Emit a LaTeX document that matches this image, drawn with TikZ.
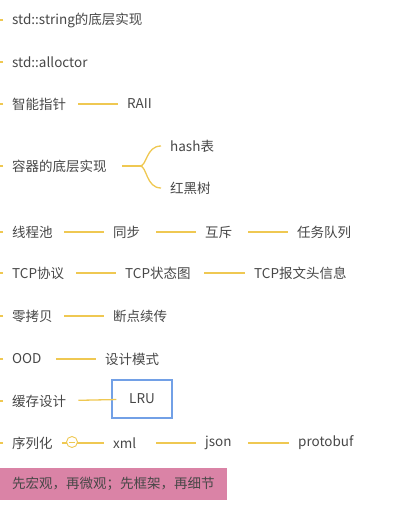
\documentclass[tikz,border=0pt]{standalone}
\usepackage{fontspec}
\setmainfont{Noto Sans CJK SC}
\usetikzlibrary{arrows}

\definecolor{txtgray}{HTML}{474747}
\definecolor{linkyellow}{HTML}{EFC852}
\definecolor{selblue}{HTML}{72A0E6}
\definecolor{notepink}{HTML}{DA83A6}

\begin{document}
\begin{tikzpicture}[x=1pt,y=-1pt]
\tikzstyle{every node}=[inner sep=0pt, text=txtgray, font=\fontsize{13.5pt}{16pt}\selectfont]
\tikzstyle{item}=[anchor=west]
\tikzstyle{topic}=[anchor=west, text width=#1]
\tikzstyle{link}=[draw=linkyellow, line width=1.3pt, shorten >=9pt]
\tikzstyle{stub}=[draw=linkyellow, line width=1.3pt, shorten <=9pt]
\useasboundingbox (0,0) rectangle (402,519);
\coordinate (edge) at (0,0);
% topics
\draw (12,20) node (str) [item] {std::string的底层实现};
\draw (12,62) node (alloc) [item] {std::alloctor};
\draw (12,104) node (ptr) [topic=66pt] {智能指针};
\draw (127,104) node (raii) [item] {RAII};
\draw (12,166) node (cont) [topic=110pt] {容器的底层实现};
\draw (170,146) node (hash) [item] {hash表};
\draw (170,188) node (rbt) [item] {红黑树};
\draw (12,232) node (pool) [topic=52pt] {线程池};
\draw (113,232) node (sync) [topic=43pt] {同步};
\draw (205,232) node (mutex) [topic=43pt] {互斥};
\draw (297,232) node (queue) [item] {任务队列};
\draw (12,273) node (tcp) [topic=64pt] {TCP协议};
\draw (125,273) node (tcpst) [topic=79pt] {TCP状态图};
\draw (254,273) node (tcphd) [item] {TCP报文头信息};
\draw (12,316) node (zcopy) [topic=52pt] {零拷贝};
\draw (113,316) node (resume) [item] {断点续传};
\draw (12,359) node (ood) [topic=44pt] {OOD};
\draw (105,359) node (pattern) [item] {设计模式};
\draw (12,401) node (cache) [topic=66pt] {缓存设计};
\draw (142,399) node (lru) [draw=selblue, line width=1.2pt, minimum width=60pt, minimum height=38pt] {LRU};
\draw (12,443) node (ser) [topic=50pt] {序列化};
\draw (113,443) node (xml) [topic=43pt] {xml};
\draw (205,443) node (json) [topic=43pt] {json};
\draw (298,443) node (proto) [item] {protobuf};
% edges
\foreach \n in {str,alloc,ptr,cont,pool,tcp,zcopy,ood,cache,ser}
  \draw[stub] (\n.west) -- (\n.west -| edge);
\draw[link] (ptr) -- (raii);
\draw[link] (pool) -- (sync);
\draw[link] (sync) -- (mutex);
\draw[link] (mutex) -- (queue);
\draw[link] (tcp) -- (tcpst);
\draw[link] (tcpst) -- (tcphd);
\draw[link] (zcopy) -- (resume);
\draw[link] (ood) -- (pattern);
\draw[link, shorten >=-5pt] (cache) -- (lru);
\draw[link] (ser) -- (xml);
\draw[link] (xml) -- (json);
\draw[link] (json) -- (proto);
% brace
\draw[link, shorten >=0pt] (cont) -- (140,166) coordinate (fork);
\draw[link] (fork) .. controls (147,166) and (146,146) .. (hash.west);
\draw[link] (fork) .. controls (147,166) and (146,188) .. (rbt.west);
% fold knob
\draw (72,442) node (knob) [circle, draw=linkyellow, line width=0.9pt, fill=white, minimum size=11pt] {};
\draw[draw=linkyellow, line width=0.9pt] (knob.center) ++(-3,0) -- ++(6,0);
% note
\draw (0,484) node (note) [anchor=west, fill=notepink, inner xsep=12pt, minimum height=32pt, text=black!72] {先宏观，再微观；先框架，再细节};
\end{tikzpicture}
\end{document}
